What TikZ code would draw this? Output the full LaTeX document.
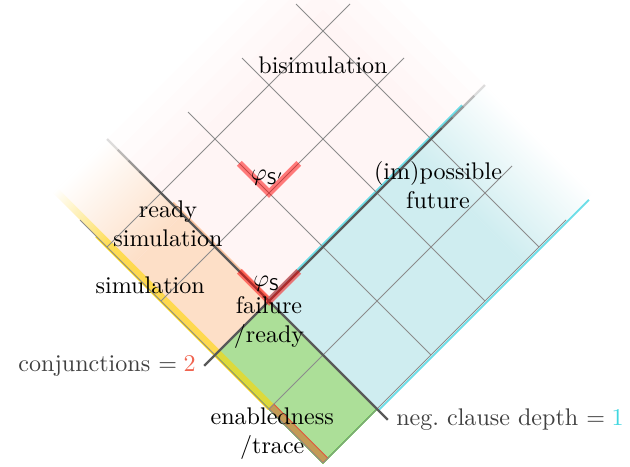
\documentclass[tikz,border=0pt]{standalone}
\usepackage{amsmath}
\usepackage{tikz}

\definecolor{readyorange}{RGB}{253,223,199}
\definecolor{readyedge}{RGB}{250,196,160}
\definecolor{futurecyan}{RGB}{207,237,240}
\definecolor{futureedge}{RGB}{110,222,232}
\definecolor{failgreen}{RGB}{172,223,152}
\definecolor{failedge}{RGB}{80,225,50}
\definecolor{simyellow}{RGB}{255,214,0}
\definecolor{tracebrown}{RGB}{194,156,86}
\definecolor{traceedge}{RGB}{225,85,60}
\definecolor{conjred}{RGB}{240,100,80}
\definecolor{negcyan}{RGB}{64,215,224}

\begin{document}
\begin{tikzpicture}[x=1.1152cm, y=1.1152cm,
    gridline/.style={black!45, line width=0.35pt},
    cutline/.style={black!65, line width=0.9pt},
    formmark/.style={red, opacity=0.5, line width=2.8pt},
    region/.style={align=center, text=black},
    cutlabel/.style={text=black!75}]
    \useasboundingbox (-4.230,-0.052) rectangle (4.020,6.063);

    % Colour regions, turned by 45 degrees (x: neg. clause depth, y: conjunctions)
    \begin{scope}[transform canvas={rotate=45}]
        % bisimulation: very light, fading out at the top
        \foreach \r in {4.2,4.4,4.6,4.8,5.0}
            \fill[red, opacity=0.008] (0,0) rectangle (\r,\r);
        % ready simulation
        \fill[readyorange] (0,0) rectangle (1,3.6);
        \shade[bottom color=readyorange, top color=white] (0,3.6) rectangle (1,5);
        \draw[readyedge, line width=1pt] (1.02,0) -- (1.02,3.8);
        % (im)possible future
        \fill[futurecyan] (1,0) rectangle (3.7,2);
        \shade[left color=futurecyan, right color=white] (3.7,0) rectangle (5,2);
        \draw[futureedge, line width=0.8pt] (1,2.025) -- (4.6,2.025);
        \draw[futureedge, line width=0.8pt] (1,-0.025) -- (4.9,-0.025);
        % failure / ready
        \fill[failgreen] (0,0) rectangle (1,2);
        \draw[failedge, line width=0.6pt] (0,0) rectangle (1,2);
        % simulation and trace strips on the left edge
        \fill[simyellow, opacity=0.6] (0,1) rectangle (0.09,4);
        \shade[bottom color=simyellow, top color=white, opacity=0.6] (0,4) rectangle (0.09,5);
        \draw[simyellow, line width=0.5pt] (-0.01,1) -- (-0.01,4.2);
        \fill[tracebrown] (0,0) rectangle (0.09,1);
        \draw[traceedge, line width=0.4pt] (0,0) rectangle (0.09,1);
    \end{scope}

    \begin{scope}[rotate=45]
        % Draw grid
        \foreach \i in {0,2,3,4}
            \draw[gridline] (\i,0) -- (\i,4.5);
        \foreach \i in {0,1,3,4}
            \draw[gridline] (0,\i) -- (4.5,\i);

        % Draw the two cuts, fading out at the far end
        \coordinate (conjend) at (-0.2,2);
        \coordinate (conjmid) at (4.2,2);
        \coordinate (negend) at (1,-0.2);
        \coordinate (negmid) at (1,4.2);
        \draw[cutline] (conjend) -- (conjmid);
        \draw[cutline] (negend) -- (negmid);
        \foreach \t/\o in {4.2/0.8,4.4/0.6,4.6/0.4,4.8/0.2} {
            \draw[cutline, opacity=\o] (\t,2) -- ++(0.2,0);
            \draw[cutline, opacity=\o] (1,\t) -- ++(0,0.2);
        }
        \node[cutlabel, anchor=east] (conj) at (conjend) {conjunctions $= \textcolor{conjred}{2}$};
        \node[cutlabel, anchor=west] (neg) at (negend) {neg.\ clause depth $= \textcolor{negcyan}{1}$};

        % Mark the two formulas
        \coordinate (sform) at (1,2);
        \coordinate (spform) at (2,3);
        \draw[formmark] (1,2.55) -- (sform) -- (1.55,2);
        \draw[formmark] (2,3.55) -- (spform) -- (2.55,3);
        \node (phis) at (1.14,2.18) {$\varphi_{\mathsf{S}}$};
        \node (phisp) at (2.13,3.15) {$\varphi_{\mathsf{S'}}$};

        % Label regions
        \node[region] (bisim) at (3.68,3.68) {bisimulation};
        \node[region] (future) at (3.64,1.51) {(im)possible\\future};
        \node[region] (readysim) at (0.78,3.65) {ready\\simulation};
        \node[region] (sim) at (0.05,3.25) {simulation};
        \node[region] (failure) at (0.8,1.8) {failure\\/ready};
        \node[region] (trace) at (-0.2,0.74) {enabledness\\/trace};
    \end{scope}
\end{tikzpicture}
\end{document}
